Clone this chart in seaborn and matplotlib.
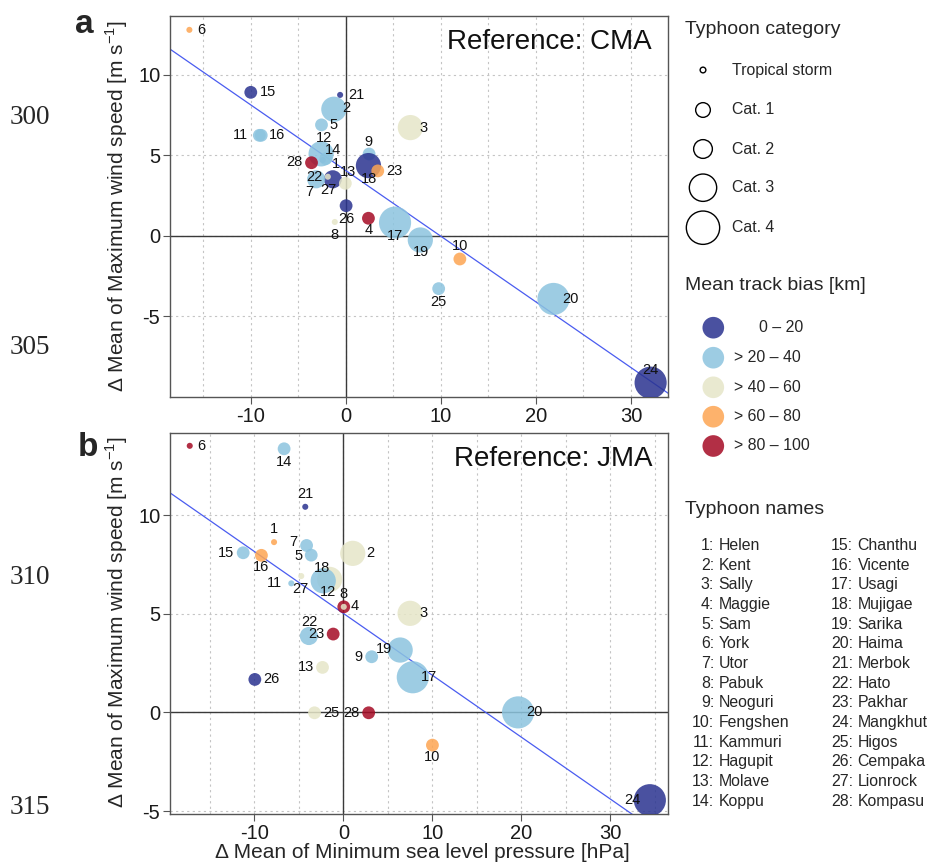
import matplotlib
matplotlib.use("Agg")
import matplotlib.pyplot as plt
import numpy as np
import pandas as pd
import seaborn as sns
from matplotlib.ticker import MultipleLocator

sns.set_theme(style="white")
plt.rcParams["font.family"] = ["Liberation Sans", "DejaVu Sans"]
plt.rcParams["axes.unicode_minus"] = False
plt.rcParams["mathtext.fontset"] = "custom"
plt.rcParams["mathtext.rm"] = "Liberation Sans"

# ---------------- data ----------------
typhoon_ids = list(range(1, 29))
typhoon_names = ["Helen", "Kent", "Sally", "Maggie", "Sam", "York", "Utor", "Pabuk",
                 "Neoguri", "Fengshen", "Kammuri", "Hagupit", "Molave", "Koppu",
                 "Chanthu", "Vicente", "Usagi", "Mujigae", "Sarika", "Haima", "Merbok",
                 "Hato", "Pakhar", "Mangkhut", "Higos", "Cempaka", "Lionrock", "Kompasu"]

category_levels = ["Tropical storm", "Cat. 1", "Cat. 2", "Cat. 3", "Cat. 4"]
bias_levels = ["0 – 20", "> 20 – 40", "> 40 – 60", "> 60 – 80", "> 80 – 100"]

# Reference: CMA
cma_dmslp = [-2.42, -1.26, 6.79, 2.38, -2.56, -16.46, -1.37, -1.16, 2.45, 12.0,
             -9.1, -2.6, -0.05, -2.1, -10.0, -8.9, 5.18, 2.38, 7.84, 21.85,
             -0.6, -3.12, 3.36, 32.07, 9.77, 0.03, -1.89, -3.61]
cma_dwind = [4.72, 7.87, 6.73, 1.10, 6.90, 12.8, 3.52, 0.87, 5.09, -1.43,
             6.25, 5.1, 3.27, 4.8, 8.92, 6.25, 0.83, 4.37, -0.25, -3.91,
             8.76, 3.52, 4.04, -9.11, -3.27, 1.88, 3.68, 4.55]
cma_category = ["Tropical storm", "Cat. 3", "Cat. 3", "Cat. 1", "Cat. 1", "Tropical storm", "Cat. 2",
                "Tropical storm", "Cat. 1", "Cat. 1", "Cat. 1", "Cat. 3", "Cat. 1", "Cat. 1",
                "Cat. 1", "Cat. 1", "Cat. 4", "Cat. 3", "Cat. 3", "Cat. 4", "Tropical storm",
                "Cat. 2", "Cat. 1", "Cat. 4", "Cat. 1", "Cat. 1", "Tropical storm", "Cat. 1"]
cma_bias = ["0 – 20", "> 20 – 40", "> 40 – 60", "> 80 – 100", "> 20 – 40", "> 60 – 80", "0 – 20",
            "> 40 – 60", "> 20 – 40", "> 60 – 80", "> 20 – 40", "> 20 – 40", "> 40 – 60", "> 20 – 40",
            "0 – 20", "> 20 – 40", "> 20 – 40", "0 – 20", "> 20 – 40", "> 20 – 40", "0 – 20",
            "> 20 – 40", "> 60 – 80", "0 – 20", "> 20 – 40", "0 – 20", "> 40 – 60", "> 80 – 100"]

# Reference: JMA
jma_dmslp = [-7.8, 1.05, 7.5, 0.04, -3.62, -17.28, -4.14, 0.04, 3.18, 10.01,
             -5.86, -1.55, -2.35, -6.67, -11.27, -9.22, 7.8, -2.27, 6.38, 19.64,
             -4.29, -3.88, -1.15, 34.46, -3.25, -9.96, -4.74, 2.84]
jma_dwind = [8.63, 8.06, 5.02, 5.35, 7.97, 13.51, 8.46, 5.35, 2.82, -1.66,
             6.54, 6.74, 2.28, 13.36, 8.09, 7.96, 1.78, 6.67, 3.16, 0.0,
             10.42, 3.87, 3.97, -4.45, -0.02, 1.67, 6.91, -0.02]
jma_category = ["Tropical storm", "Cat. 3", "Cat. 3", "Cat. 1", "Cat. 1", "Tropical storm", "Cat. 1",
                "Tropical storm", "Cat. 1", "Cat. 1", "Tropical storm", "Cat. 3", "Cat. 1", "Cat. 1",
                "Cat. 1", "Cat. 1", "Cat. 4", "Cat. 3", "Cat. 3", "Cat. 4", "Tropical storm",
                "Cat. 2", "Cat. 1", "Cat. 4", "Cat. 1", "Cat. 1", "Tropical storm", "Cat. 1"]
jma_bias = ["> 60 – 80", "> 40 – 60", "> 40 – 60", "> 80 – 100", "> 20 – 40", "> 80 – 100", "> 20 – 40",
            "> 40 – 60", "> 20 – 40", "> 60 – 80", "> 20 – 40", "> 40 – 60", "> 40 – 60", "> 20 – 40",
            "> 20 – 40", "> 60 – 80", "> 20 – 40", "> 20 – 40", "> 20 – 40", "> 20 – 40", "0 – 20",
            "> 20 – 40", "> 80 – 100", "0 – 20", "> 40 – 60", "0 – 20", "> 40 – 60", "> 80 – 100"]

# ---------------- styles ----------------
bias_colors = dict(zip(bias_levels, ["#2a3390", "#8cc4df", "#e6e6c8", "#fda552", "#a50a24"]))
point_sizes = dict(zip(category_levels, [19, 85, 170, 330, 535]))
legend_sizes = [17, 112, 182, 388, 576]

# label offsets in pixels (dx right, dy down)
cma_label_offsets = {1: (13, 4), 2: (12, -1), 3: (13, 0), 4: (0, 12), 5: (12, 0), 6: (12, 0),
                     7: (-23, 13), 8: (0, 13), 9: (-1, -12), 10: (0, -13), 11: (-19, 0),
                     12: (3, -16), 13: (3, -11), 14: (7, -9), 15: (17, 0), 16: (16, 0),
                     17: (0, 13), 18: (1, 13), 19: (1, 12), 20: (17, 0), 21: (16, 0),
                     22: (-2, -2), 23: (17, 0), 24: (0, -13), 25: (0, 13), 26: (0, 13),
                     27: (1, 13), 28: (-17, -1)}
jma_label_offsets = {1: (0, -13), 2: (18, 0), 3: (13, 0), 4: (11, -1), 5: (-13, 1), 6: (12, 0),
                     7: (-13, -3), 8: (0, -13), 9: (-13, 0), 10: (0, 12), 11: (-17, 0),
                     12: (-2, 13), 13: (-17, 0), 14: (0, 13), 15: (-17, 0), 16: (0, 12),
                     17: (16, 0), 18: (-1, -13), 19: (-16, -1), 20: (16, 0), 21: (0, -13),
                     22: (0, -14), 23: (-17, 0), 24: (-17, 0), 25: (17, 0), 26: (17, 0),
                     27: (-1, 13), 28: (-17, 0)}

W, H = 930, 865
fig = plt.figure(figsize=(W / 100, H / 100), dpi=100)


def px_axes(l, t, r, b):
    return fig.add_axes([l / W, 1 - b / H, (r - l) / W, (b - t) / H])


ax_a = px_axes(170, 16, 668, 397)
ax_b = px_axes(170, 433, 668, 814)

panels = [
    (ax_a, cma_dmslp, cma_dwind, cma_category, cma_bias, cma_label_offsets,
     "Reference: CMA", (-18.5, 33.9), (-10.0, 13.66)),
    (ax_b, jma_dmslp, jma_dwind, jma_category, jma_bias, jma_label_offsets,
     "Reference: JMA", (-19.5, 36.5), (-5.15, 14.16)),
]

for ax, xs, ys, cats, biases, offs, title, xlim, ylim in panels:
    df = pd.DataFrame({"id": typhoon_ids, "dmslp": xs, "dwind": ys,
                       "category": cats, "bias": biases})
    ax.set_xlim(*xlim)
    ax.set_ylim(*ylim)
    ax.xaxis.set_major_locator(MultipleLocator(10))
    ax.xaxis.set_minor_locator(MultipleLocator(5))
    ax.set_yticks([-5, 0, 5, 10])
    ax.grid(True, which="both", axis="x", color="#c4c4c4", linestyle=(0, (2, 3)), lw=0.8)
    ax.grid(True, which="major", axis="y", color="#c4c4c4", linestyle=(0, (2, 3)), lw=0.8)
    ax.set_axisbelow(True)
    ax.axvline(0, color="#3a3a3a", lw=1.0, zorder=1)
    ax.axhline(0, color="#3a3a3a", lw=1.0, zorder=1)
    sns.regplot(data=df, x="dmslp", y="dwind", scatter=False, ci=None, truncate=False,
                line_kws=dict(color="#4a5cf0", lw=0.9, zorder=2), ax=ax)
    sns.scatterplot(data=df, x="dmslp", y="dwind", hue="bias", hue_order=bias_levels,
                    palette=bias_colors, size="category", size_order=category_levels,
                    sizes=point_sizes, alpha=0.85, linewidth=0, legend=False, ax=ax, zorder=3)
    for _, row in df.iterrows():
        dx, dy = offs[row["id"]]
        ax.annotate(str(row["id"]), (row["dmslp"], row["dwind"]), xytext=(dx, -dy),
                    textcoords="offset pixels", ha="center", va="center",
                    fontsize=10.5, color="#111111", zorder=4)
    ax.set_xlim(*xlim)
    ax.set_ylim(*ylim)
    ax.set_xlabel("")
    ax.set_ylabel("")
    for s in ax.spines.values():
        s.set_color("#555555")
        s.set_linewidth(1.0)
    ax.tick_params(which="major", direction="out", length=5, width=0.8, color="#555555",
                   labelsize=14.5, labelcolor="#1a1a1a", pad=2, bottom=True, left=True)
    ax.tick_params(which="minor", length=0)
    ax.text(1 - 16 / 498, 1 - 33 / 381, title, transform=ax.transAxes, ha="right",
            va="baseline", fontsize=20, color="#111111")

ylab = r"Δ Mean of Maximum wind speed [m s$^{\mathregular{-1}}$]"
fig.text(117 / W, 1 - 206 / H, ylab, rotation=90, ha="center", va="center", fontsize=15)
fig.text(117 / W, 1 - 622 / H, ylab, rotation=90, ha="center", va="center", fontsize=15)
fig.text(422 / W, 1 - 852 / H, "Δ Mean of Minimum sea level pressure [hPa]",
         ha="center", va="center", fontsize=15)

fig.text(75 / W, 1 - 33 / H, "a", fontsize=24, fontweight="bold", va="baseline", ha="left")
fig.text(78 / W, 1 - 456 / H, "b", fontsize=24, fontweight="bold", va="baseline", ha="left")

line_numbers = ["300", "305", "310", "315"]
for txt, yy in zip(line_numbers, [118, 348, 577, 808]):
    fig.text(10 / W, 1 - yy / H, txt, family=["Liberation Serif"], fontsize=19.5,
             ha="left", va="center")

# ---------------- legends ----------------
lax = px_axes(670, 0, 930, 865)
lax.set_xlim(670, 930)
lax.set_ylim(865, 0)
lax.axis("off")

lax.text(685, 29, "Typhoon category", fontsize=14, ha="left", va="center")
cat_y = [70, 110, 149, 187.7, 227.7]
lax.scatter([703] * 5, cat_y, s=legend_sizes, facecolors="none", edgecolors="black",
            linewidths=1.0)
for lab, yy in zip(category_levels, cat_y):
    lax.text(732, yy, lab, fontsize=11.4, ha="left", va="center")

lax.text(685, 286, "Mean track bias [km]", fontsize=14, ha="left", va="center")
bias_y = [327.7, 357.7, 387.3, 416.7, 446]
lax.scatter([713.3] * 5, bias_y, s=243, c=[bias_colors[b] for b in bias_levels],
            alpha=0.85, linewidths=0)
for lab, yy in zip(bias_levels, bias_y):
    lax.text(759 if lab.startswith("0") else 734, yy, lab, fontsize=11.4,
             ha="left", va="center")

lax.text(685, 509, "Typhoon names", fontsize=14, ha="left", va="center")
for i, (tid, name) in enumerate(zip(typhoon_ids, typhoon_names)):
    col, r = divmod(i, 14)
    yy = 545.7 + r * 19.64
    num_x = 714 if col == 0 else 853
    lax.text(num_x, yy, f"{tid}:", fontsize=11.4, ha="right", va="center")
    lax.text(num_x + 4.5, yy, name, fontsize=11.4, ha="left", va="center")

fig.savefig("out.png", dpi=100)
